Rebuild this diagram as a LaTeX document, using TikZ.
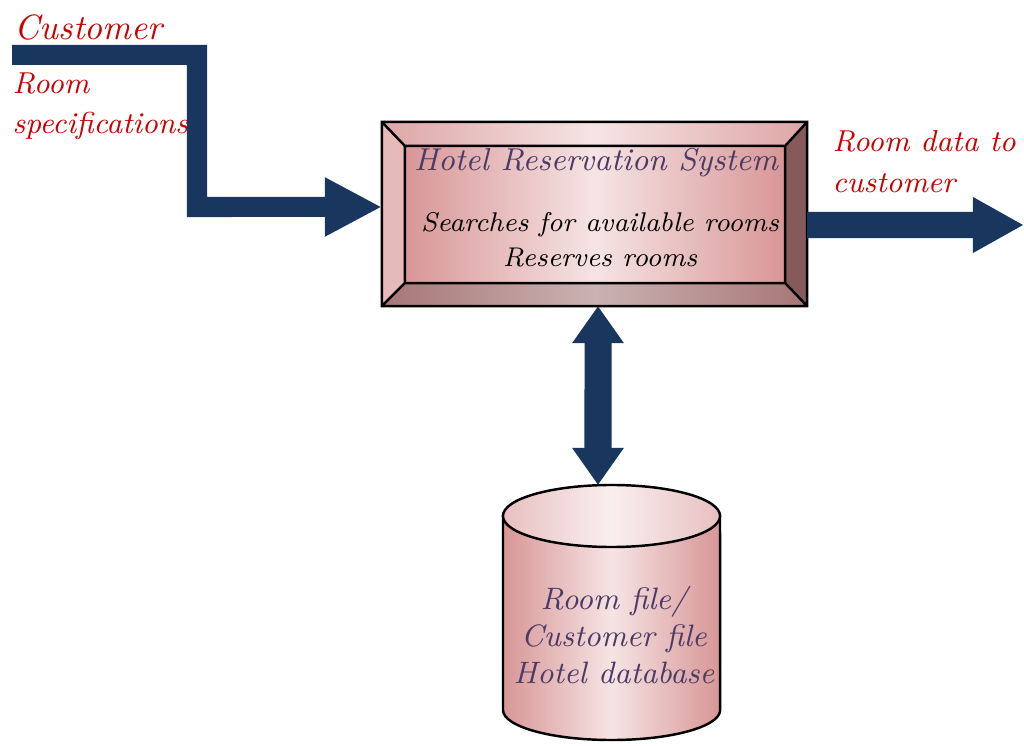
\documentclass[tikz,border=0pt]{standalone}
\usepackage{tikz}
\usetikzlibrary{arrows.meta, calc, positioning}
\definecolor{flownavy}{RGB}{25,54,94}
\definecolor{labelred}{RGB}{204,0,0}
\definecolor{titleink}{RGB}{75,58,102}
\definecolor{roseedge}{RGB}{216,150,150}
\definecolor{rosemid}{RGB}{246,228,228}
\definecolor{bevellight}{RGB}{231,186,186}
\definecolor{beveldark}{RGB}{134,90,90}
\definecolor{bevelbot}{RGB}{168,118,118}
\definecolor{bevelbotmid}{RGB}{202,178,178}

\begin{document}
\begin{tikzpicture}[x=0.01cm, y=-0.01cm,
  sysbox/.style={rectangle, minimum width=4.25cm, minimum height=1.84cm, outer sep=0pt, inner sep=0pt},
  flow/.style={draw=flownavy, line width=0.2cm, line join=miter},
  hand/.style={font=\itshape, align=center, inner sep=0pt},
  lbl/.style={hand, text=labelred, align=left, font=\fontsize{8.6}{11.5}\selectfont\itshape}
]
\useasboundingbox (0,0) rectangle (1024,746);

% System box with bevelled frame
\node[sysbox] (hrs) at (594.5,214) {};
\coordinate (inw) at ($(hrs.north west)+(23,24)$);
\coordinate (ine) at ($(hrs.north east)+(-22,24)$);
\coordinate (ise) at ($(hrs.south east)+(-22,-23)$);
\coordinate (isw) at ($(hrs.south west)+(23,-23)$);
\shade[left color=roseedge!85, right color=roseedge!85, middle color=rosemid] (hrs.north west) rectangle (hrs.south east);
\fill[bevellight] (hrs.north west) -- (inw) -- (isw) -- (hrs.south west) -- cycle;
\fill[beveldark] (hrs.north east) -- (ine) -- (ise) -- (hrs.south east) -- cycle;
\shade[left color=bevelbot, right color=bevelbot, middle color=bevelbotmid] (hrs.south west) -- (isw) -- (ise) -- (hrs.south east) -- cycle;
\shade[left color=roseedge, right color=roseedge, middle color=rosemid] (inw) rectangle (ise);
\draw[line width=0.7pt] (hrs.north west) rectangle (hrs.south east) (inw) rectangle (ise)
  (hrs.north west) -- (inw) (hrs.north east) -- (ine) (hrs.south east) -- (ise) (hrs.south west) -- (isw);
\node[hand, text=titleink, font=\fontsize{9}{11}\selectfont\itshape] (title) at (596,163) {Hotel Reservation System};
\node[hand, font=\fontsize{7.7}{10}\selectfont\itshape] (ops) at (600,240) {Searches for available rooms\\Reserves rooms};

% Database cylinder
\shade[left color=roseedge, right color=roseedge, middle color=rosemid, draw=black, line width=0.7pt]
  (503,516) -- (503,710) arc[start angle=180, end angle=360, x radius=1.085cm, y radius=0.3cm] -- (720,516) -- cycle;
\shade[left color=roseedge!60, right color=roseedge!60, middle color=rosemid!60!white, draw=black, line width=0.7pt]
  (611.5,516) ellipse [x radius=1.085cm, y radius=0.31cm];
\coordinate (dbtop) at (598,485);
\node[hand, text=titleink, font=\fontsize{8.8}{10.5}\selectfont\itshape] (dbtext) at (614,635) {Room file/\\Customer file\\Hotel database};

% Labels
\node[lbl, font=\fontsize{10}{12}\selectfont\itshape, anchor=west] (lblcust) at (14,27) {Customer};
\node[lbl, anchor=north west] (lblspec) at (12,72) {Room\\specifications};
\node[lbl, anchor=north west] (lblout) at (832,130) {Room data to\\customer};

% Flows
\coordinate (cust) at (12,55);
\coordinate (outp) at (1024,225);
\draw[flow, -{Triangle[length=0.57cm, width=0.55cm]}] (cust) -| (197,207) -- ([yshift=0.07cm]hrs.west);
\draw[flow, line width=0.26cm, -{Triangle[length=0.51cm, width=0.52cm]}] ([yshift=-0.11cm]hrs.east) -- (outp);
\draw[flow, line width=0.27cm, {Triangle[length=0.37cm, width=0.49cm]}-{Triangle[length=0.37cm, width=0.49cm]}] ([xshift=0.035cm]hrs.south) -- (dbtop);
\end{tikzpicture}
\end{document}
